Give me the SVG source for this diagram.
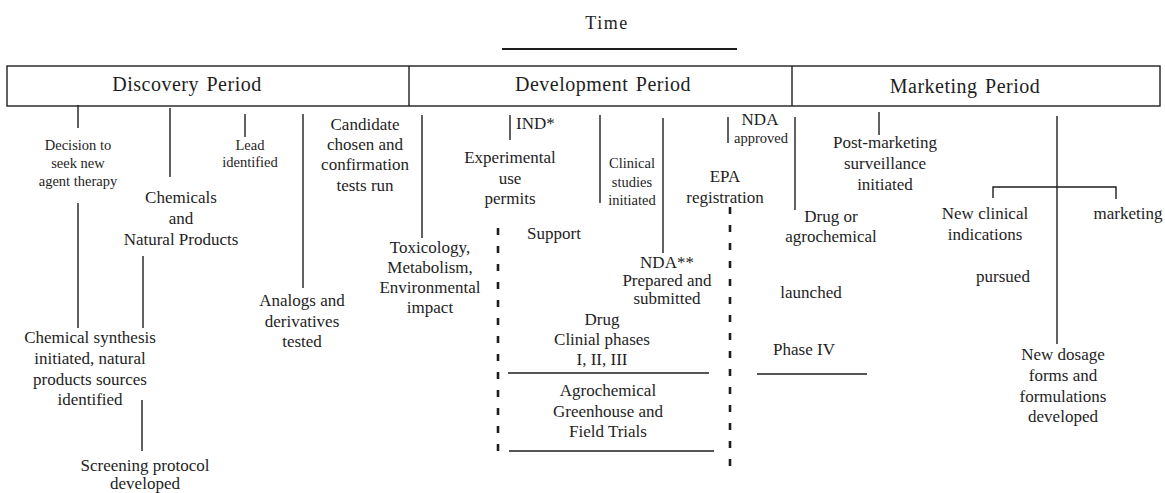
<svg xmlns="http://www.w3.org/2000/svg" width="1165" height="493" viewBox="0 0 1165 493">
  <style>
    text { font-family: "Liberation Serif", "Times New Roman", serif; fill: #1e1e1e; text-anchor: middle; }
    .t { font-size: 17px; }
    .s { font-size: 14.5px; }
    .h { font-size: 20px; letter-spacing: 0.5px; word-spacing: 2px; }
    .ln { stroke: #1e1e1e; stroke-width: 1.4; fill: none; }
    .dash { stroke: #1e1e1e; stroke-width: 2.6; stroke-dasharray: 7 11; fill: none; }
  </style>
  <rect width="1165" height="493" fill="#ffffff"/>

  <!-- time axis -->
  <g id="time">
    <text x="607" y="29" style="font-size:18px;letter-spacing:1.5px">Time</text>
    <line x1="502" y1="49" x2="737" y2="49" stroke="#1e1e1e" stroke-width="2"/>
  </g>

  <!-- period header -->
  <g id="periods">
    <rect x="7" y="66" width="1153" height="40" class="ln" stroke-width="1.6"/>
    <line x1="409" y1="66" x2="409" y2="106" class="ln"/>
    <line x1="792" y1="66" x2="792" y2="106" class="ln"/>
    <text class="h" x="187" y="91">Discovery Period</text>
    <text class="h" x="603" y="91">Development Period</text>
    <text class="h" x="965" y="93">Marketing Period</text>
  </g>

  <!-- connectors -->
  <g id="connectors">
    <line class="ln" x1="78" y1="105" x2="78" y2="128"/>
    <line class="ln" x1="78" y1="203" x2="78" y2="328"/>
    <line class="ln" x1="170" y1="108" x2="170" y2="177"/>
    <line class="ln" x1="143" y1="256" x2="143" y2="328"/>
    <line class="ln" x1="142" y1="400" x2="142" y2="451"/>
    <line class="ln" x1="245" y1="114" x2="245" y2="137"/>
    <line class="ln" x1="303" y1="114" x2="303" y2="288"/>
    <line class="ln" x1="422" y1="115" x2="422" y2="238"/>
    <line class="ln" x1="510" y1="115" x2="510" y2="140"/>
    <line class="ln" x1="600" y1="115" x2="600" y2="203"/>
    <line class="ln" x1="663" y1="118" x2="663" y2="253"/>
    <line class="ln" x1="728" y1="117" x2="728" y2="143"/>
    <line class="ln" x1="795" y1="117" x2="795" y2="210"/>
    <line class="ln" x1="879" y1="112" x2="879" y2="135"/>
    <line class="ln" x1="1057" y1="116" x2="1057" y2="344"/>
    <polyline class="ln" points="993,198 993,187 1116,187 1116,199"/>
    <line class="dash" x1="498" y1="228" x2="498" y2="456"/>
    <line class="dash" x1="730" y1="207" x2="730" y2="476"/>
    <line class="ln" x1="508" y1="373" x2="709" y2="373"/>
    <line class="ln" x1="509" y1="451" x2="714" y2="451"/>
    <line class="ln" x1="757" y1="374" x2="867" y2="374"/>
  </g>

  <!-- discovery period events -->
  <g id="decision">
    <text class="s" x="78" y="150">Decision to</text>
    <text class="s" x="78" y="168">seek new</text>
    <text class="s" x="78" y="186">agent therapy</text>
  </g>
  <g id="synthesis">
    <text class="t" x="90" y="343">Chemical synthesis</text>
    <text class="t" x="90" y="364">initiated, natural</text>
    <text class="t" x="90" y="385">products sources</text>
    <text class="t" x="90" y="405">identified</text>
  </g>
  <g id="chemicals">
    <text class="t" x="181" y="203">Chemicals</text>
    <text class="t" x="181" y="224">and</text>
    <text class="t" x="181" y="245">Natural Products</text>
  </g>
  <g id="screening">
    <text class="t" x="145" y="471">Screening protocol</text>
    <text class="t" x="145" y="489">developed</text>
  </g>
  <g id="lead">
    <text class="s" x="250" y="150">Lead</text>
    <text class="s" x="250" y="167">identified</text>
  </g>
  <g id="analogs">
    <text class="t" x="302" y="306">Analogs and</text>
    <text class="t" x="302" y="327">derivatives</text>
    <text class="t" x="302" y="347">tested</text>
  </g>
  <g id="candidate">
    <text class="t" x="365" y="130">Candidate</text>
    <text class="t" x="365" y="150">chosen and</text>
    <text class="t" x="365" y="170">confirmation</text>
    <text class="t" x="365" y="191">tests run</text>
  </g>

  <!-- development period events -->
  <g id="toxicology">
    <text class="t" x="430" y="253">Toxicology,</text>
    <text class="t" x="430" y="273">Metabolism,</text>
    <text class="t" x="430" y="293">Environmental</text>
    <text class="t" x="430" y="313">impact</text>
  </g>
  <g id="ind">
    <text class="t" x="516" y="129" style="text-anchor:start">IND*</text>
  </g>
  <g id="experimental">
    <text class="t" x="510" y="163">Experimental</text>
    <text class="t" x="510" y="184">use</text>
    <text class="t" x="510" y="204">permits</text>
  </g>
  <g id="support">
    <text class="t" x="554" y="239">Support</text>
  </g>
  <g id="clinical">
    <text class="s" x="632" y="168">Clinical</text>
    <text class="s" x="632" y="187">studies</text>
    <text class="s" x="632" y="205">initiated</text>
  </g>
  <g id="nda-submitted">
    <text class="t" x="667" y="268">NDA**</text>
    <text class="t" x="667" y="286">Prepared and</text>
    <text class="t" x="667" y="304">submitted</text>
  </g>
  <g id="nda-approved">
    <text class="t" x="760" y="125">NDA</text>
    <text class="s" x="761" y="143">approved</text>
  </g>
  <g id="epa">
    <text class="t" x="725" y="182">EPA</text>
    <text class="t" x="725" y="203">registration</text>
  </g>
  <g id="drug-phases">
    <text class="t" x="602" y="325">Drug</text>
    <text class="t" x="602" y="345">Clinial phases</text>
    <text class="t" x="602" y="365">I, II, III</text>
  </g>
  <g id="agro-trials">
    <text class="t" x="608" y="396">Agrochemical</text>
    <text class="t" x="608" y="417">Greenhouse and</text>
    <text class="t" x="608" y="437">Field Trials</text>
  </g>

  <!-- marketing period events -->
  <g id="launch">
    <text class="t" x="831" y="222">Drug or</text>
    <text class="t" x="831" y="242">agrochemical</text>
    <text class="t" x="811" y="298">launched</text>
  </g>
  <g id="phase4">
    <text class="t" x="804" y="355">Phase IV</text>
  </g>
  <g id="surveillance">
    <text class="t" x="885" y="148">Post-marketing</text>
    <text class="t" x="885" y="169">surveillance</text>
    <text class="t" x="885" y="190">initiated</text>
  </g>
  <g id="indications">
    <text class="t" x="985" y="219">New clinical</text>
    <text class="t" x="985" y="240">indications</text>
    <text class="t" x="1003" y="282">pursued</text>
  </g>
  <g id="marketing">
    <text class="t" x="1128" y="219">marketing</text>
  </g>
  <g id="dosage">
    <text class="t" x="1063" y="360">New dosage</text>
    <text class="t" x="1063" y="381">forms and</text>
    <text class="t" x="1063" y="402">formulations</text>
    <text class="t" x="1063" y="422">developed</text>
  </g>
</svg>
